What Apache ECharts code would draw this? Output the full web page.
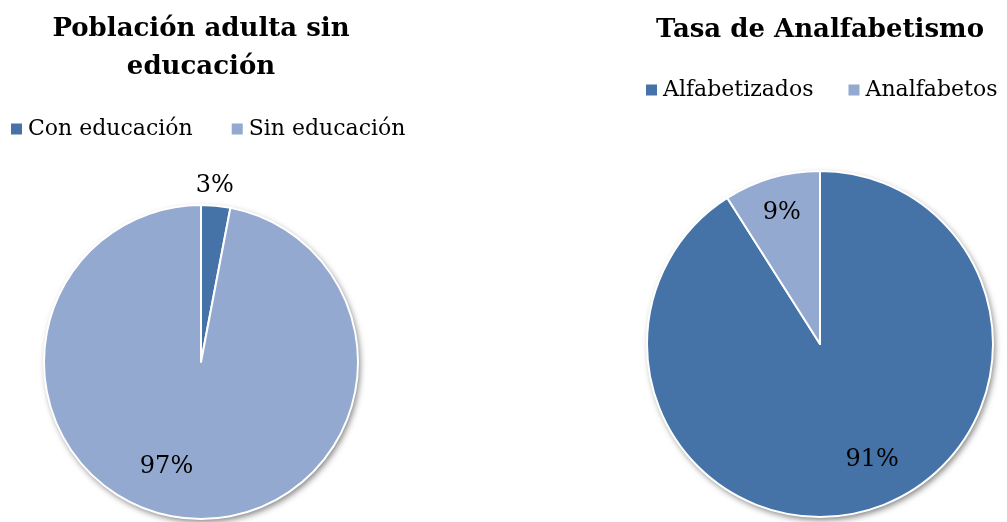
<!DOCTYPE html>
<html>
<head>
<meta charset="utf-8">
<script src="https://cdn.jsdelivr.net/npm/echarts@6/dist/echarts.min.js"></script>
<style>
  html, body { margin: 0; padding: 0; background: #fff; }
  #chart { width: 1007px; height: 522px; }
</style>
</head>
<body>
<div id="chart"></div>
<script>
// datos
var educCategorias = ["Con educación", "Sin educación"];
var educValores = [3, 97];
var alfaCategorias = ["Alfabetizados", "Analfabetos"];
var alfaValores = [91, 9];
var colores = ["#4572A7", "#93A9CF"];

var fuente = "DejaVu Serif";

function datos(cats, vals) {
  return cats.map(function (c, i) {
    return { name: c, value: vals[i], itemStyle: { color: colores[i] } };
  });
}

// solo se muestran las etiquetas indicadas
function etiquetas(cats, vals, mostrar) {
  return cats.map(function (c, i) {
    return { name: c, value: vals[i], label: { show: mostrar[i] } };
  });
}

function sombra(centro, radio, color) {
  return {
    type: "pie", silent: true, center: centro, radius: radio, z: 1,
    label: { show: false }, labelLine: { show: false },
    data: [{ name: "", value: 1, itemStyle: { color: color, shadowBlur: 6, shadowOffsetX: 2, shadowOffsetY: 3, shadowColor: "rgba(0,0,0,0.5)" } }]
  };
}

function principal(centro, radio, cats, vals) {
  return {
    type: "pie", center: centro, radius: radio, startAngle: 90, clockwise: true, z: 2,
    label: { show: false }, labelLine: { show: false },
    itemStyle: { borderColor: "#fff", borderWidth: 2 },
    emphasis: { disabled: true },
    data: datos(cats, vals)
  };
}

// capa transparente que solo lleva las etiquetas
function capaEtiquetas(centro, radio, cats, vals, mostrar, desp) {
  return {
    type: "pie", silent: true, center: centro, radius: radio, startAngle: 90, clockwise: true, z: 3,
    itemStyle: { color: "transparent" },
    labelLine: { show: false },
    label: {
      position: "inside", color: "#000", fontFamily: fuente, fontSize: 24,
      offset: desp || [0, 0],
      formatter: function (p) { return p.value + "%"; }
    },
    data: etiquetas(cats, vals, mostrar)
  };
}

var chart = echarts.init(document.getElementById("chart"));

var cIzq = [201, 362], rIzq = 157;
var cDer = [820, 344], rDer = 173;

chart.setOption({
  animation: false,
  title: [
    {
      text: "Población adulta sin\neducación", left: 196, top: 5, textAlign: "center",
      textStyle: { fontFamily: fuente, fontSize: 26, fontWeight: "bold", color: "#000", lineHeight: 38 }
    },
    {
      text: "Tasa de Analfabetismo", left: 815, top: 12, textAlign: "center",
      textStyle: { fontFamily: fuente, fontSize: 26, fontWeight: "bold", color: "#000" }
    }
  ],
  legend: [
    {
      data: educCategorias, left: 4, top: 113, icon: "rect", itemWidth: 13, itemHeight: 13, itemGap: 37,
      textStyle: { fontFamily: fuente, fontSize: 22, color: "#000" }
    },
    {
      data: alfaCategorias, left: 639, top: 74, icon: "rect", itemWidth: 13, itemHeight: 13, itemGap: 33,
      textStyle: { fontFamily: fuente, fontSize: 22, color: "#000" }
    }
  ],
  series: [
    sombra(cIzq, rIzq, colores[1]),
    principal(cIzq, rIzq, educCategorias, educValores),
    capaEtiquetas(cIzq, [rIzq * 0.38, rIzq], educCategorias, educValores, [false, true], [-24, -6]),
    capaEtiquetas(cIzq, [rIzq, rIzq + 38], educCategorias, educValores, [true, false], [-3, 2]),
    sombra(cDer, rDer, colores[0]),
    principal(cDer, rDer, alfaCategorias, alfaValores),
    capaEtiquetas(cDer, [rDer * 0.55, rDer], alfaCategorias, alfaValores, [false, true], [0, 0]),
    capaEtiquetas(cDer, [rDer * 0.55, rDer], alfaCategorias, alfaValores, [true, false], [14, -16])
  ]
});
</script>
</body>
</html>
